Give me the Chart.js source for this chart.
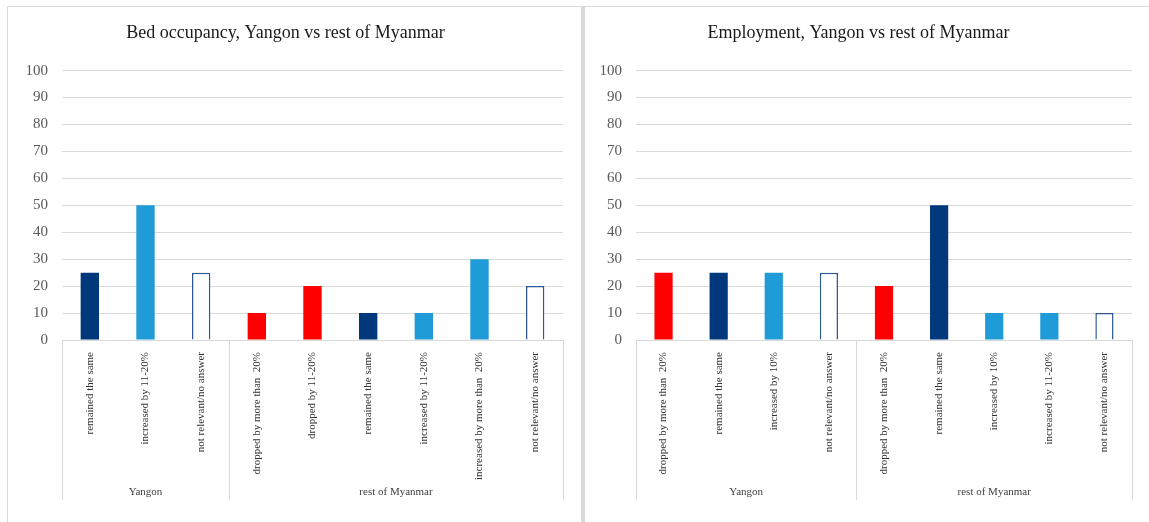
<!DOCTYPE html>
<html>
<head>
<meta charset="utf-8">
<script src="https://cdn.jsdelivr.net/npm/chart.js@4.4.0/dist/chart.umd.min.js"></script>
<style>
  body { margin: 0; background: #fff; width: 1149px; height: 522px; position: relative; overflow: hidden; }
  .panel { position: absolute; top: 6px; height: 520px; border: 1px solid #d9d9d9; border-bottom: none; box-sizing: border-box; }
  #panelBed { left: 7px; width: 576px; border-right-width: 2px; }
  #panelEmp { left: 583px; width: 570px; border-left-width: 2px; }
  .panel canvas { position: absolute; left: 0; top: 0; }
</style>
</head>
<body>
<div class="panel" id="panelBed"><canvas id="graficoBed" width="573" height="513"></canvas></div>
<div class="panel" id="panelEmp"><canvas id="graficoEmp" width="565" height="513"></canvas></div>
<script>
// Bed occupancy
const bedYangonLabels = ["remained the same", "increased by 11-20%", "not relevant/no answer"];
const bedYangonValues = [25, 50, 25];
const bedRestLabels = ["dropped by more than  20%", "dropped by 11-20%", "remained the same", "increased by 11-20%", "increased by more than  20%", "not relevant/no answer"];
const bedRestValues = [10, 20, 10, 10, 30, 20];

// Employment
const empYangonLabels = ["dropped by more than  20%", "remained the same", "increased by 10%", "not relevant/no answer"];
const empYangonValues = [25, 25, 25, 25];
const empRestLabels = ["dropped by more than  20%", "remained the same", "increased by 10%", "increased by 11-20%", "not relevant/no answer"];
const empRestValues = [20, 50, 10, 10, 10];

const yTicks = [0, 10, 20, 30, 40, 50, 60, 70, 80, 90, 100];
const groupNames = ["Yangon", "rest of Myanmar"];

const SERIF = "'Liberation Serif', 'DejaVu Serif', serif";

function corPara(label) {
  if (label.startsWith("dropped")) return "#FF0000";
  if (label.startsWith("remained")) return "#00387B";
  if (label.startsWith("increased")) return "#1F9BD7";
  return "#FFFFFF";
}

function bordaPara(label) {
  return label.startsWith("not relevant") ? "#2B5797" : corPara(label);
}

// draws the two-level category axis: separators and group names
const gruposPlugin = {
  id: "grupos",
  afterDraw(chart, args, opts) {
    const x = chart.scales.x;
    const ctx = chart.ctx;
    const n = chart.data.labels.length;
    const w = (x.right - x.left) / n;
    ctx.save();
    ctx.strokeStyle = "#d9d9d9";
    ctx.lineWidth = 1;
    let inicio = 0;
    const linhas = [x.left];
    opts.counts.forEach((c, i) => {
      const a = x.left + inicio * w;
      const b = x.left + (inicio + c) * w;
      linhas.push(b);
      ctx.fillStyle = "#404040";
      ctx.font = "11px " + SERIF;
      ctx.textAlign = "center";
      ctx.textBaseline = "middle";
      ctx.fillText(opts.names[i], (a + b) / 2, x.bottom - 8);
      inicio += c;
    });
    linhas.forEach(px => {
      ctx.beginPath();
      ctx.moveTo(Math.round(px) + 0.5, x.top);
      ctx.lineTo(Math.round(px) + 0.5, x.bottom);
      ctx.stroke();
    });
    ctx.restore();
  }
};

function criarGrafico(id, titulo, labels1, values1, labels2, values2, yWidth) {
  const labels = labels1.concat(labels2);
  const values = values1.concat(values2);
  return new Chart(document.getElementById(id).getContext("2d"), {
    type: "bar",
    data: {
      labels: labels,
      datasets: [{
        data: values,
        backgroundColor: labels.map(corPara),
        borderColor: labels.map(bordaPara),
        borderWidth: labels.map(l => l.startsWith("not relevant") ? 1.5 : 0),
        categoryPercentage: 1,
        barPercentage: 0.33
      }]
    },
    plugins: [gruposPlugin],
    options: {
      responsive: false,
      animation: false,
      layout: { padding: { left: 0, right: 18, top: 0, bottom: 20 } },
      plugins: {
        legend: { display: false },
        tooltip: { enabled: false },
        title: {
          display: true,
          text: titulo,
          color: "#1a1a1a",
          font: { family: SERIF, size: 18, weight: "normal" },
          padding: { top: 15, bottom: 27 }
        },
        grupos: { counts: [labels1.length, labels2.length], names: groupNames }
      },
      scales: {
        x: {
          grid: { display: false },
          border: { display: false },
          ticks: {
            color: "#333",
            font: { family: SERIF, size: 11 },
            minRotation: 90,
            maxRotation: 90,
            autoSkip: false,
            padding: 4
          },
          afterFit: s => { s.height = 160; }
        },
        y: {
          min: 0,
          max: 100,
          afterBuildTicks: s => { s.ticks = yTicks.map(v => ({ value: v })); },
          grid: { color: "#d9d9d9", drawTicks: false },
          border: { display: false },
          ticks: {
            color: "#595959",
            font: { family: SERIF, size: 15 },
            padding: 14
          },
          afterFit: s => { s.width = yWidth; }
        }
      }
    }
  });
}

window.graficoBed = criarGrafico("graficoBed", "Bed occupancy, Yangon vs rest of Myanmar",
  bedYangonLabels, bedYangonValues, bedRestLabels, bedRestValues, 54);
window.graficoEmp = criarGrafico("graficoEmp", "Employment, Yangon vs rest of Myanmar",
  empYangonLabels, empYangonValues, empRestLabels, empRestValues, 51);
</script>
</body>
</html>
